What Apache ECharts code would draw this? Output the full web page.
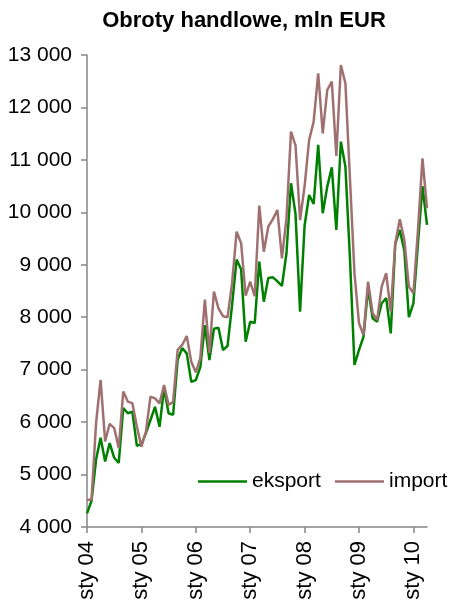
<!DOCTYPE html>
<html>
<head>
<meta charset="utf-8">
<script src="https://cdn.jsdelivr.net/npm/echarts@6/dist/echarts.min.js"></script>
<style>
html,body{margin:0;padding:0;background:#fff;}
#chart{width:449px;height:606px;}
</style>
</head>
<body>
<div id="chart"></div>
<script>
// Tick labels / categories (monthly, sty 04 .. kwi 10)
const monthNames = ["sty","lut","mar","kwi","maj","cze","lip","sie","wrz","paź","lis","gru"];
const years = ["04","05","06","07","08","09","10"];
const lastYearMonths = 4;

// Series values, mln EUR
const eksport = [
  4260, 4500, 5285, 5700, 5250, 5600, 5320, 5220, 6270, 6170, 6200, 5550,
  5580, 5790, 6040, 6290, 5910, 6650, 6170, 6140, 7190, 7410, 7310, 6770,
  6800, 7050, 7850, 7185, 7780, 7800, 7375, 7450, 8230, 9100, 8910, 7535,
  7915, 7890, 9060, 8297, 8750, 8760, 8685, 8596, 9220, 10555, 9965, 8106,
  9750, 10331, 10160, 11285, 9982, 10490, 10859, 9664, 11348, 10871, 9130, 7089,
  7375, 7629, 8560, 7980, 7916, 8266, 8365, 7693, 9400, 9664, 9270, 8000,
  8266, 9400, 10500, 9760
];
const importVals = [
  4513, 4525, 5981, 6804, 5633, 5968, 5886, 5506, 6582, 6392, 6361, 5918,
  5530, 5820, 6485, 6453, 6358, 6708, 6327, 6390, 7376, 7471, 7642, 7153,
  6950, 7220, 8335, 7320, 8490, 8170, 8020, 8000, 8647, 9631, 9410, 8410,
  8679, 8400, 10130, 9250, 9730, 9870, 10045, 9123, 9880, 11538, 11270, 9850,
  10500, 11380, 11730, 12652, 11507, 12333, 12492, 11075, 12810, 12461, 10650, 8840,
  7884, 7661, 8678, 8080, 7947, 8583, 8838, 8106, 9410, 9867, 9473, 8583,
  8457, 9650, 11031, 10078
];

const categories = [];
years.forEach(function(y, yi){
  const n = (yi === years.length - 1) ? lastYearMonths : 12;
  for (let m = 0; m < n; m++) categories.push(monthNames[m] + " " + y);
});

const axisColor = "#868686";
const font = "Liberation Sans, Arial, sans-serif";
const legendBase = {
  icon: "rect", itemWidth: 49, itemHeight: 2.5, padding: 0,
  textStyle: {fontFamily: font, fontSize: 21, color: "#000"}
};
const chart = echarts.init(document.getElementById("chart"), null, {renderer: "canvas"});
chart.setOption({
  animation: false,
  backgroundColor: "#ffffff",
  title: {
    text: "Obroty handlowe, mln EUR",
    left: 239, top: 5, textAlign: "center",
    textStyle: {fontFamily: font, fontWeight: "bold", fontSize: 22, color: "#000"}
  },
  legend: [
    Object.assign({data: ["eksport"], left: 198, top: 471}, legendBase),
    Object.assign({data: ["import"], left: 335, top: 471}, legendBase)
  ],
  grid: {left: 87, right: 22, top: 55, bottom: 79, containLabel: false},
  xAxis: {
    type: "category",
    data: categories,
    boundaryGap: false,
    axisLine: {lineStyle: {color: axisColor, width: 1.5}},
    axisTick: {show: true, length: 6, lineStyle: {color: axisColor, width: 1.5},
      interval: function(i){ return i % 12 === 0; }},
    axisLabel: {
      interval: function(i){ return i % 12 === 0; },
      rotate: 90, margin: 14,
      fontFamily: font, fontSize: 22, color: "#000"
    },
    splitLine: {show: false}
  },
  yAxis: {
    type: "value",
    min: 4000, max: 13000, interval: 1000,
    axisLine: {show: true, lineStyle: {color: axisColor, width: 1.5}},
    axisTick: {show: true, length: 6, lineStyle: {color: axisColor, width: 1.5}},
    axisLabel: {
      margin: 15,
      fontFamily: font, fontSize: 21, color: "#000",
      formatter: function(v){ return String(v).replace(/\B(?=(\d{3})+(?!\d))/g, " "); }
    },
    splitLine: {show: false}
  },
  series: [
    {name: "eksport", type: "line", data: eksport, symbol: "none",
      itemStyle: {color: "#008000"}, lineStyle: {color: "#008000", width: 2.5}},
    {name: "import", type: "line", data: importVals, symbol: "none",
      itemStyle: {color: "#A07070"}, lineStyle: {color: "#A07070", width: 2.5}}
  ]
});
</script>
</body>
</html>
